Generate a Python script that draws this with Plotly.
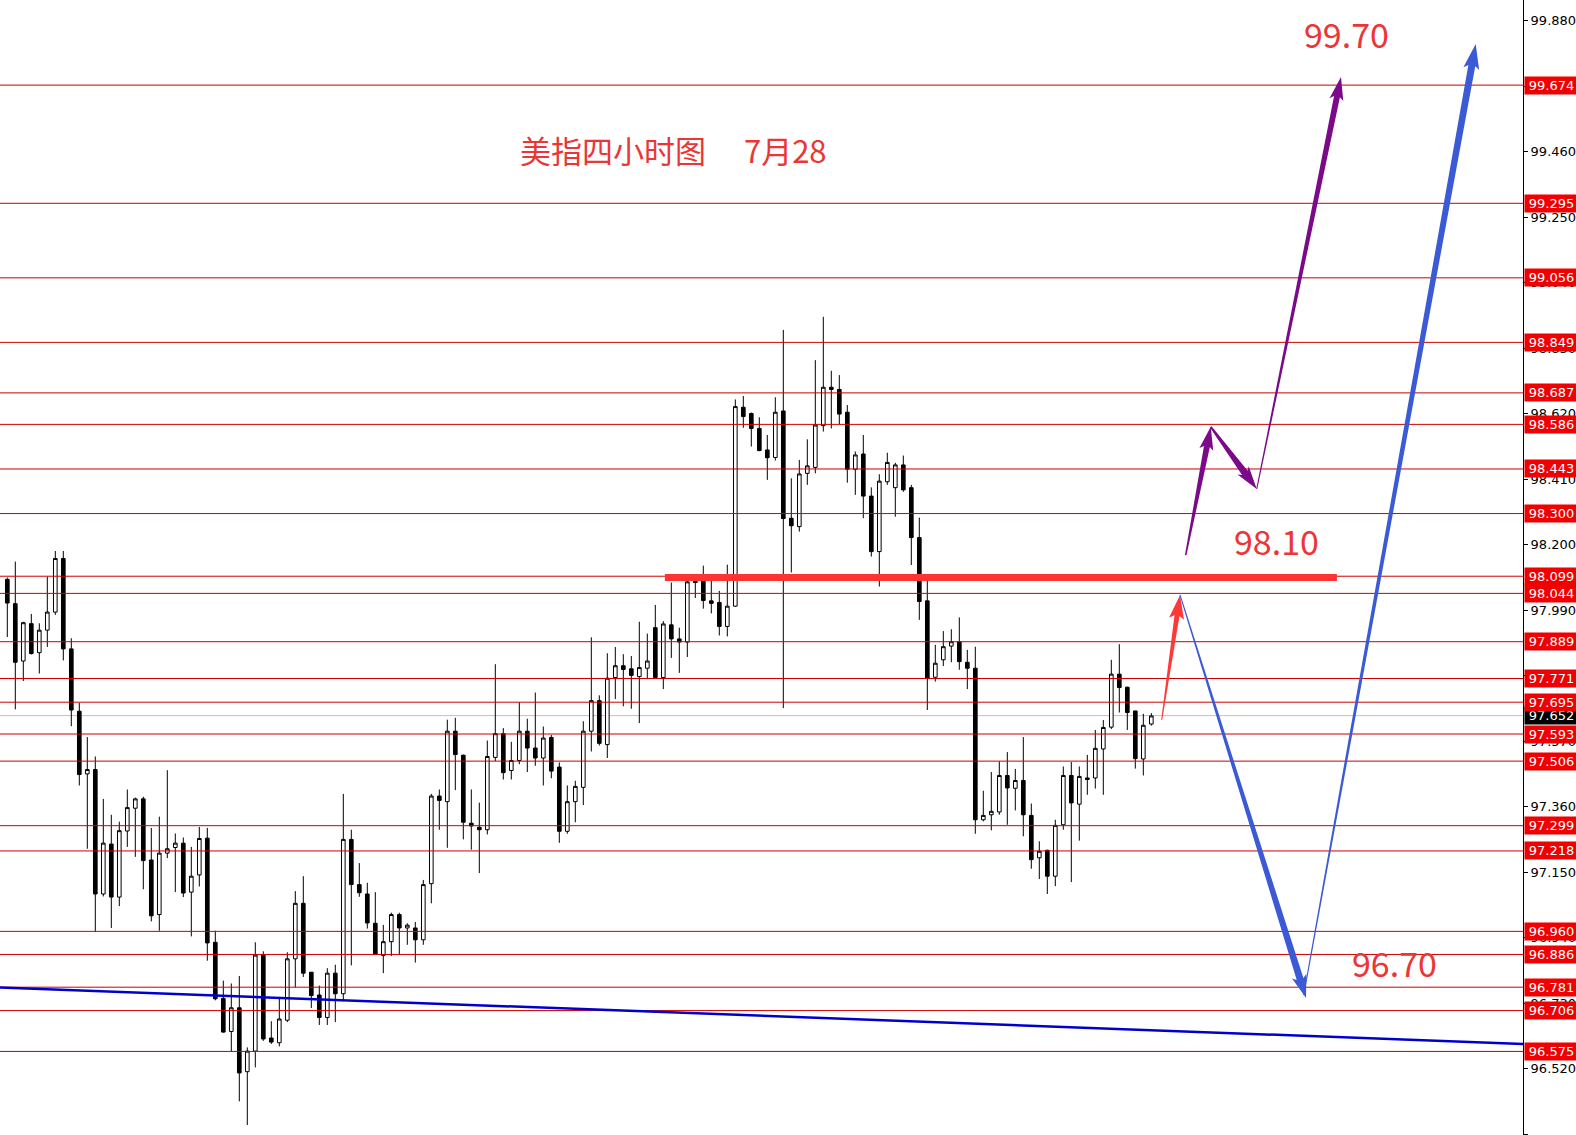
import math
import plotly.graph_objects as go

# ---------------- data ----------------
opens = [98.089, 98.011, 97.827, 97.947, 97.854, 97.926, 97.984, 98.156, 97.866, 97.666,
         97.465, 97.479, 97.080, 97.240, 97.070, 97.282, 97.355, 97.385, 97.189, 97.014,
         97.211, 97.229, 97.243, 97.086, 97.141, 97.259, 96.925, 96.745, 96.639, 96.715,
         96.510, 96.576, 96.884, 96.618, 96.603, 96.675, 96.872, 97.050, 96.829, 96.756,
         96.684, 96.826, 96.760, 97.255, 97.110, 97.080, 96.986, 96.883, 96.927, 97.014,
         96.971, 96.971, 96.933, 97.113, 97.394, 97.376, 97.602, 97.525, 97.307, 97.294,
         97.286, 97.518, 97.594, 97.476, 97.508, 97.602, 97.548, 97.516, 97.582, 97.487,
         97.281, 97.376, 97.422, 97.602, 97.700, 97.559, 97.774, 97.812, 97.802, 97.777,
         97.804, 97.934, 97.774, 97.943, 97.898, 97.888, 98.083, 98.083, 98.020, 98.015,
         97.938, 98.003, 98.641, 98.621, 98.573, 98.504, 98.480, 98.629, 98.285, 98.258,
         98.429, 98.448, 98.582, 98.705, 98.698, 98.625, 98.442, 98.491, 98.356, 98.178,
         98.402, 98.383, 98.456, 98.383, 98.223, 98.020, 97.775, 97.831, 97.875, 97.889,
         97.823, 97.804, 97.318, 97.334, 97.343, 97.460, 97.419, 97.444, 97.332, 97.196,
         97.220, 97.137, 97.302, 97.460, 97.368, 97.452, 97.452, 97.545, 97.615, 97.785,
         97.743, 97.667, 97.513, 97.625]
highs = [98.095, 98.146, 97.953, 97.978, 97.948, 98.098, 98.180, 98.180, 97.900, 97.693,
         97.583, 97.521, 97.385, 97.334, 97.312, 97.415, 97.389, 97.392, 97.292, 97.328,
         97.477, 97.274, 97.261, 97.231, 97.295, 97.292, 96.962, 96.802, 96.793, 96.817,
         96.588, 96.925, 96.896, 96.672, 96.750, 96.893, 97.089, 97.137, 96.829, 96.786,
         96.842, 96.853, 97.401, 97.286, 97.179, 97.116, 97.086, 96.981, 97.020, 97.020,
         96.986, 96.990, 97.125, 97.401, 97.415, 97.639, 97.645, 97.527, 97.415, 97.373,
         97.572, 97.817, 97.612, 97.568, 97.695, 97.642, 97.726, 97.617, 97.590, 97.502,
         97.428, 97.443, 97.634, 97.903, 97.717, 97.852, 97.872, 97.849, 97.843, 97.953,
         97.915, 98.007, 97.955, 98.079, 97.934, 98.087, 98.104, 98.133, 98.087, 98.052,
         98.136, 98.666, 98.677, 98.624, 98.609, 98.552, 98.673, 98.889, 98.413, 98.472,
         98.538, 98.792, 98.931, 98.758, 98.744, 98.648, 98.499, 98.552, 98.384, 98.426,
         98.495, 98.463, 98.486, 98.392, 98.287, 98.084, 97.879, 97.923, 97.929, 97.967,
         97.863, 97.873, 97.411, 97.471, 97.505, 97.535, 97.481, 97.583, 97.370, 97.249,
         97.222, 97.318, 97.489, 97.503, 97.489, 97.526, 97.606, 97.638, 97.831, 97.881,
         97.745, 97.667, 97.658, 97.660]
lows = [97.904, 97.672, 97.763, 97.848, 97.787, 97.872, 97.975, 97.829, 97.618, 97.428,
        97.225, 96.959, 97.072, 96.971, 97.041, 97.231, 97.199, 97.095, 96.992, 96.962,
        97.195, 97.086, 97.070, 96.944, 97.104, 96.866, 96.739, 96.635, 96.575, 96.415,
        96.339, 96.524, 96.609, 96.599, 96.591, 96.669, 96.780, 96.814, 96.714, 96.660,
        96.660, 96.669, 96.736, 96.851, 97.071, 96.969, 96.884, 96.826, 96.881, 96.887,
        96.917, 96.860, 96.917, 97.050, 97.286, 97.228, 97.413, 97.255, 97.222, 97.147,
        97.271, 97.506, 97.447, 97.447, 97.496, 97.471, 97.491, 97.428, 97.451, 97.244,
        97.273, 97.310, 97.365, 97.537, 97.556, 97.516, 97.705, 97.682, 97.674, 97.628,
        97.769, 97.772, 97.737, 97.837, 97.789, 97.840, 98.029, 97.995, 97.980, 97.909,
        97.906, 98.001, 98.575, 98.515, 98.500, 98.408, 98.470, 97.676, 98.111, 98.242,
        98.392, 98.429, 98.563, 98.573, 98.587, 98.399, 98.360, 98.285, 98.162, 98.066,
        98.392, 98.290, 98.370, 98.135, 97.959, 97.670, 97.761, 97.811, 97.823, 97.799,
        97.737, 97.273, 97.313, 97.284, 97.334, 97.302, 97.348, 97.265, 97.161, 97.128,
        97.080, 97.105, 97.286, 97.118, 97.251, 97.398, 97.418, 97.398, 97.609, 97.662,
        97.606, 97.482, 97.460, 97.620]
closes = [98.013, 97.823, 97.950, 97.851, 97.926, 97.984, 98.156, 97.866, 97.670, 97.463,
          97.479, 97.080, 97.243, 97.070, 97.283, 97.357, 97.385, 97.187, 97.010, 97.211,
          97.225, 97.243, 97.083, 97.137, 97.258, 96.923, 96.744, 96.637, 96.715, 96.506,
          96.576, 96.884, 96.615, 96.605, 96.679, 96.872, 97.050, 96.826, 96.754, 96.684,
          96.826, 96.760, 97.255, 97.110, 97.084, 96.987, 96.887, 96.927, 97.014, 96.971,
          96.980, 96.933, 97.110, 97.394, 97.380, 97.602, 97.527, 97.310, 97.298, 97.286,
          97.521, 97.594, 97.469, 97.508, 97.602, 97.548, 97.516, 97.580, 97.474, 97.281,
          97.376, 97.425, 97.602, 97.700, 97.563, 97.772, 97.812, 97.800, 97.781, 97.806,
          97.827, 97.774, 97.946, 97.898, 97.888, 98.081, 98.079, 98.021, 98.012, 97.938,
          98.003, 98.643, 98.611, 98.573, 98.502, 98.479, 98.625, 98.284, 98.261, 98.427,
          98.453, 98.584, 98.705, 98.698, 98.619, 98.442, 98.488, 98.356, 98.178, 98.404,
          98.464, 98.456, 98.376, 98.223, 98.018, 97.772, 97.820, 97.873, 97.889, 97.825,
          97.804, 97.318, 97.332, 97.345, 97.460, 97.420, 97.444, 97.334, 97.190, 97.217,
          97.137, 97.300, 97.460, 97.372, 97.457, 97.447, 97.547, 97.614, 97.785, 97.742,
          97.662, 97.514, 97.621, 97.651]
bar_index = list(range(len(opens)))

levels = [99.674, 99.295, 99.056, 98.849, 98.687, 98.586, 98.443, 98.300, 98.099, 98.044,
          97.889, 97.771, 97.695, 97.593, 97.506, 97.299, 97.218, 96.960, 96.886, 96.781,
          96.706, 96.575]
last_price = 97.652
axis_ticks = [99.880, 99.670, 99.460, 99.250, 99.040, 98.830, 98.620, 98.410, 98.200, 97.990,
              97.780, 97.570, 97.360, 97.150, 96.940, 96.730, 96.520, 96.310]

trend_x = [-0.9125, 189.46]
trend_y = [96.780, 96.599]

support_x = [82.2, 166.2]
support_y = [98.095, 98.095]

# arrows: (x0, y0, x1, y1)
arrow_red = (144.30, 97.638, 146.59, 98.039)
arrow_blue_down = (146.59, 98.039, 162.34, 96.746)
arrow_blue_up = (162.05, 96.756, 183.55, 99.806)
arrow_purple_1 = (147.30, 98.167, 150.43, 98.578)
arrow_purple_2 = (150.43, 98.578, 156.18, 98.379)
arrow_purple_3 = (156.18, 98.379, 166.71, 99.700)

title_text = "美指四小时图\u3000 7月28"
target_labels = ["99.70", "98.10", "96.70"]

# ---------------- layout geometry ----------------
W, H = 1576, 1135
M_R = 53
XR = [-0.9125, 189.46]
YR = [96.307, 99.947]
PW, PH = W - M_R, H
SX = PW / (XR[1] - XR[0])
SY = PH / (YR[1] - YR[0])

RED_LINE = "#CC0000"
TXT_RED = "#EC3535"
BLUE = "#3A5AD6"
PURPLE = "#7A0A88"
ARROW_RED = "#FF3838"


def arrow_path(a, w0, w1, hw, hl):
    x0, y0, x1, y1 = a
    dx = (x1 - x0) * SX
    dy = (y1 - y0) * SY
    L = math.hypot(dx, dy)
    ux, uy = dx / L, dy / L
    nx, ny = -uy, ux
    b = L - hl
    pts = [
        (nx * w0 / 2, ny * w0 / 2),
        (ux * b + nx * w1 / 2, uy * b + ny * w1 / 2),
        (ux * (b - 3) + nx * hw / 2, uy * (b - 3) + ny * hw / 2),
        (ux * L, uy * L),
        (ux * (b - 3) - nx * hw / 2, uy * (b - 3) - ny * hw / 2),
        (ux * b - nx * w1 / 2, uy * b - ny * w1 / 2),
        (-nx * w0 / 2, -ny * w0 / 2),
    ]
    s = []
    for k, (px, py) in enumerate(pts):
        s.append(("M" if k == 0 else "L") + f"{x0 + px / SX:.4f},{y0 + py / SY:.5f}")
    return " ".join(s) + " Z"


fig = go.Figure()
fig.add_trace(go.Candlestick(
    x=bar_index, open=opens, high=highs, low=lows, close=closes,
    increasing=dict(line=dict(color="black", width=1), fillcolor="white"),
    decreasing=dict(line=dict(color="black", width=1), fillcolor="black"),
    whiskerwidth=0, showlegend=False, hoverinfo="skip",
))

shapes = []
for lv in levels:
    shapes.append(dict(type="line", xref="paper", x0=0, x1=1, yref="y", y0=lv, y1=lv,
                       line=dict(color=RED_LINE, width=1), layer="above"))
shapes.append(dict(type="line", xref="paper", x0=0, x1=1, yref="y", y0=last_price, y1=last_price,
                   line=dict(color="#C0C0C0", width=1), layer="below"))
shapes.append(dict(type="line", xref="x", yref="y", x0=trend_x[0], x1=trend_x[1],
                   y0=trend_y[0], y1=trend_y[1], line=dict(color="#0000CC", width=2.5), layer="above"))
shapes.append(dict(type="line", xref="x", yref="y", x0=support_x[0], x1=support_x[1],
                   y0=support_y[0], y1=support_y[1], line=dict(color="#FF3333", width=7), layer="above"))

for a, col, w0, w1, hw, hl in [
    (arrow_red, ARROW_RED, 1, 5, 15, 21),
    (arrow_blue_down, BLUE, 1, 7, 15, 20),
    (arrow_blue_up, BLUE, 1, 7, 16, 22),
    (arrow_purple_1, PURPLE, 1.5, 6, 14, 20),
    (arrow_purple_2, PURPLE, 2, 7, 14, 20),
    (arrow_purple_3, PURPLE, 1, 6, 14, 20),
]:
    shapes.append(dict(type="path", xref="x", yref="y", path=arrow_path(a, w0, w1, hw, hl),
                       fillcolor=col, line=dict(width=0), layer="above"))

annotations = []
# current price label (drawn first so red ones overlay it)
annotations.append(dict(xref="paper", x=1, xanchor="left", xshift=1, yref="y", y=last_price,
                        yanchor="middle", text=f"{last_price:.3f}", showarrow=False,
                        font=dict(family="DejaVu Sans", size=13, color="white"),
                        bgcolor="black", borderpad=1, width=51, align="center"))
for lv in levels:
    annotations.append(dict(xref="paper", x=1, xanchor="left", xshift=1, yref="y", y=lv,
                            yanchor="middle", text=f"{lv:.3f}", showarrow=False,
                            font=dict(family="DejaVu Sans", size=13, color="white"),
                            bgcolor="#F00000", borderpad=1, width=51, align="center"))

annotations.append(dict(xref="x", yref="y", x=63.8, y=99.468, xanchor="left", yanchor="middle",
                        text=title_text, showarrow=False,
                        font=dict(family="Noto Sans CJK SC", size=31, color=TXT_RED)))
for txt, tx, ty in zip(target_labels, [167.4, 158.65, 173.34], [99.841, 98.213, 96.860]):
    annotations.append(dict(xref="x", yref="y", x=tx, y=ty, xanchor="center", yanchor="middle",
                            text=txt, showarrow=False,
                            font=dict(family="Noto Sans CJK SC", size=34, color=TXT_RED)))

fig.update_layout(
    width=W, height=H,
    margin=dict(l=0, r=M_R, t=0, b=0),
    paper_bgcolor="white", plot_bgcolor="white",
    boxgap=0.35,
    showlegend=False,
    shapes=shapes,
    annotations=annotations,
    xaxis=dict(range=XR, visible=False, rangeslider=dict(visible=False), fixedrange=True),
    yaxis=dict(range=YR, side="right", showgrid=False, zeroline=False,
               showline=True, linecolor="black", linewidth=1, mirror=False,
               ticks="outside", ticklen=4, tickcolor="black",
               tickvals=axis_ticks, ticktext=[f"{t:.3f}" for t in axis_ticks],
               tickfont=dict(family="DejaVu Sans", size=13, color="black")),
)

fig.write_html("out.html", config={"displayModeBar": False},
               post_script="document.body.style.margin='0';document.body.style.overflow='hidden';")
